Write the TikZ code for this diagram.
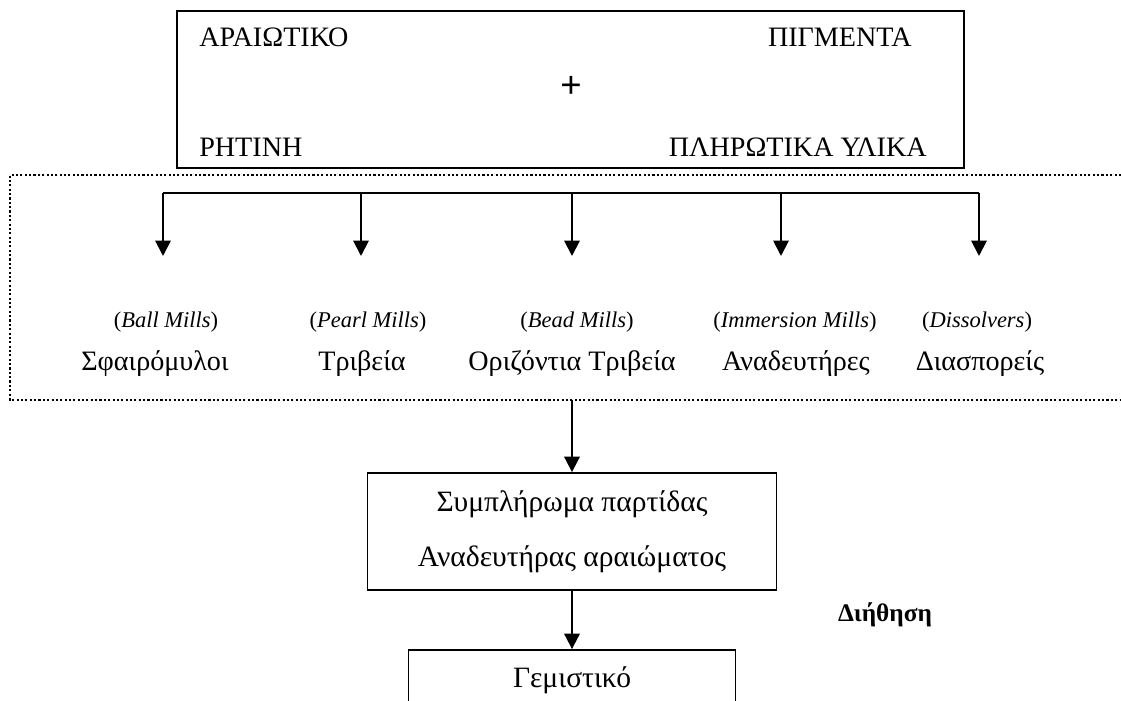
\documentclass[tikz,border=0pt]{standalone}
\usepackage{fontspec}
\setmainfont{Liberation Serif}
\newfontfamily\plusfont{Liberation Sans}
\usetikzlibrary{arrows.meta, positioning}
\tikzset{
  frame/.style={draw=black, line width=1.3pt, inner sep=0pt},
  arr/.style={line width=1.4pt, -{Triangle[width=11pt,length=11pt]}},
  dotbox/.style={line width=1.5pt, dash pattern=on 1.5pt off 1.6pt},
  big/.style={font=\fontsize{20}{24}\selectfont, inner sep=0pt},
  small/.style={font=\fontsize{16}{19}\selectfont, inner sep=0pt},
}

\begin{document}
\begin{tikzpicture}[x=0.025cm, y=-0.025cm]
    \useasboundingbox (0,0) rectangle (1121,701);
    % raw materials
    \node[frame, minimum width=19.675cm, minimum height=3.925cm] (mix) at (570.5,89.5) {};
    \node[big, anchor=west] (thin) at (199,37) {ΑΡΑΙΩΤΙΚΟ};
    \node[big, anchor=east] (pigm) at (912,37) {ΠΙΓΜΕΝΤΑ};
    \node[big, anchor=west] (resin) at (199,147) {ΡΗΤΙΝΗ};
    \node[big, anchor=east] (fill) at (927,147) {ΠΛΗΡΩΤΙΚΑ ΥΛΙΚΑ};
    \node[inner sep=0pt, font=\plusfont\fontsize{26}{30}\selectfont] (plus) at (571,87) {+};
    % dispersion stage
    \draw[dotbox] (1121,175) -| (10,400) -- (1121,400);
    \coordinate (bl) at (163,193);
    \coordinate (br) at (979,193);
    \draw[line width=1.4pt] (bl) -- (br);
    \foreach \x/\n in {163/1, 361/2, 572/3, 781/4, 979/5} {
      \coordinate (b\n) at (\x,193);
      \coordinate (t\n) at (\x,256);
      \draw[arr] (b\n) -- (t\n);
    }
    \node[small, anchor=base] (ballen) at (166,328) {(\textit{Ball Mills})};
    \node[small, anchor=base] (pearlen) at (368,328) {(\textit{Pearl Mills})};
    \node[small, anchor=base] (beaden) at (577,328) {(\textit{Bead Mills})};
    \node[small, anchor=base] (immen) at (795,328) {(\textit{Immersion Mills})};
    \node[small, anchor=base] (dissen) at (977,328) {(\textit{Dissolvers})};
    \node[big, anchor=base] (ball) at (155,371) {Σφαιρόμυλοι};
    \node[big, anchor=base] (pearl) at (362,371) {Τριβεία};
    \node[big, anchor=base] (bead) at (572,371) {Οριζόντια Τριβεία};
    \node[big, anchor=base] (imm) at (796,371) {Αναδευτήρες};
    \node[big, anchor=base] (diss) at (980,371) {Διασπορείς};
    % let down and filling
    \coordinate (out) at (572,400);
    \node[frame, minimum width=10.225cm, minimum height=2.925cm, align=center,
          font=\fontsize{21}{39}\selectfont] (batch) at (572,531.5)
          {Συμπλήρωμα παρτίδας\\Αναδευτήρας αραιώματος};
    \node[frame, minimum width=8.175cm, minimum height=1.5cm,
          font=\fontsize{21}{25}\selectfont] (filler) at (572,680) {Γεμιστικό};
    \node[inner sep=0pt, font=\bfseries\fontsize{18}{22}\selectfont] (filt) at (885,615) {Διήθηση};
    \draw[arr] (out) -- (batch.north);
    \draw[arr] (batch.south) -- (filler.north);
\end{tikzpicture}
\end{document}
